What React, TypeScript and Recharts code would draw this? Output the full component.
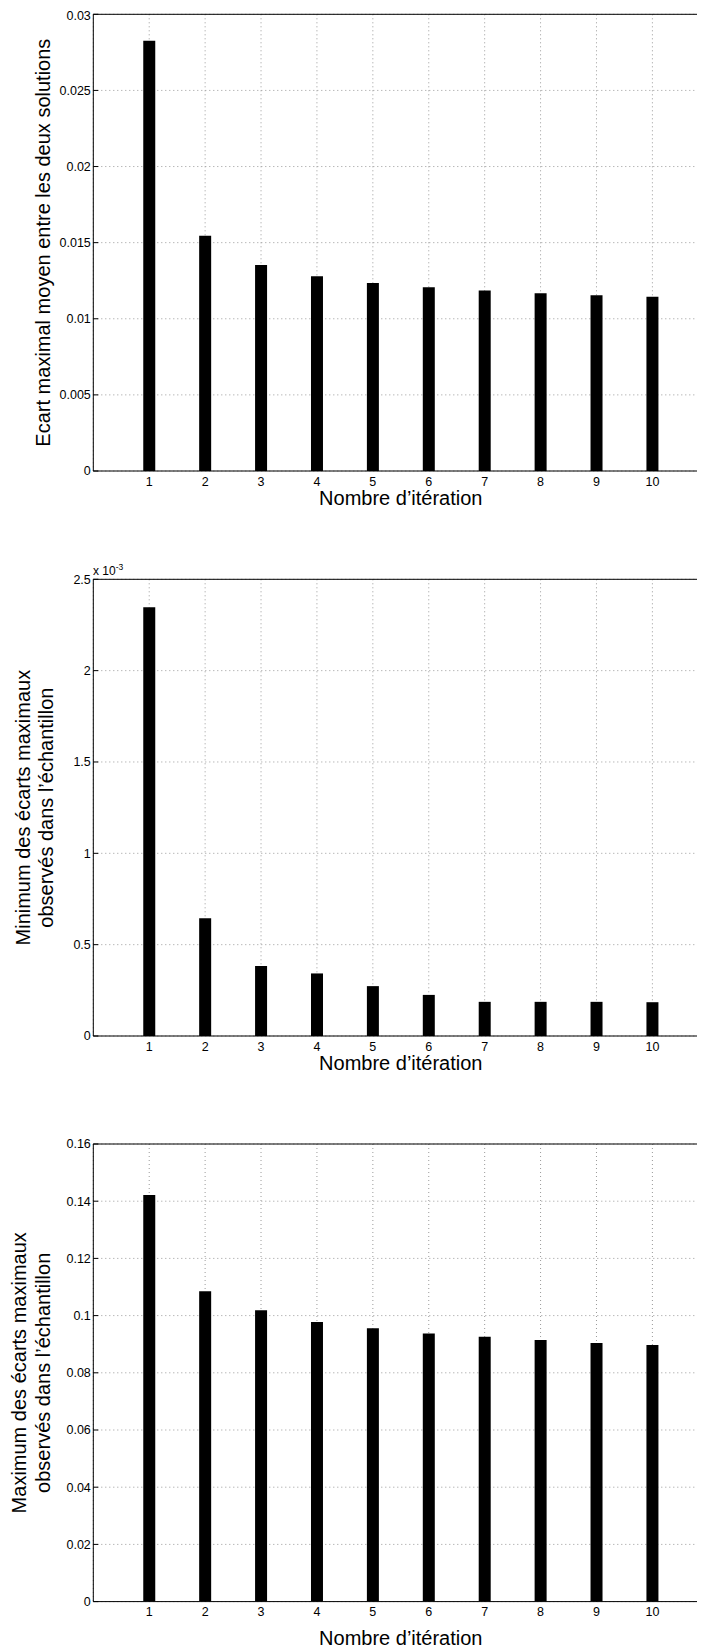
import React from 'react';
import { BarChart, Bar, XAxis, YAxis, CartesianGrid } from 'recharts';

const iterations = [1, 2, 3, 4, 5, 6, 7, 8, 9, 10];
const ecartMoyen = [0.02826, 0.01545, 0.01353, 0.01279, 0.01235, 0.01207, 0.01185, 0.01168, 0.01155, 0.01144];
const minEcarts = [0.002347, 0.000645, 0.000383, 0.0003425, 0.000273, 0.000225, 0.000187, 0.000187, 0.000187, 0.000185];
const maxEcarts = [0.1422, 0.1085, 0.1019, 0.0978, 0.0956, 0.0937, 0.0926, 0.0915, 0.0904, 0.0897];

const yTicks1 = [0, 0.005, 0.01, 0.015, 0.02, 0.025, 0.03];
const yLabels1 = ['0', '0.005', '0.01', '0.015', '0.02', '0.025', '0.03'];
const yTicks2 = [0, 0.0005, 0.001, 0.0015, 0.002, 0.0025];
const yLabels2 = ['0', '0.5', '1', '1.5', '2', '2.5'];
const yTicks3 = [0, 0.02, 0.04, 0.06, 0.08, 0.1, 0.12, 0.14, 0.16];
const yLabels3 = ['0', '0.02', '0.04', '0.06', '0.08', '0.1', '0.12', '0.14', '0.16'];

const xTitle = 'Nombre d\u2019itération';
const yTitle1 = ['Ecart maximal moyen entre les deux solutions'];
const yTitle2 = ['Minimum des écarts maximaux', 'observés dans l\u2019échantillon'];
const yTitle3 = ['Maximum des écarts maximaux', 'observés dans l\u2019échantillon'];

const W = 705;
const PLOT_LEFT = 85.3;
const PLOT_W = 615;
const X_AXIS_H = 30;
const FONT = '"Liberation Sans", Arial, Helvetica, sans-serif';

type PanelProps = {
  top: number;
  height: number;
  plotTop: number;
  plotBottom: number;
  values: number[];
  yTicks: number[];
  yLabels: string[];
  titleLines: string[];
  titleX: number[];
  xTitleBaseline: number;
  exponent?: { x: number; y: number };
};

function Panel(p: PanelProps) {
  const data = iterations.map((x, i) => ({ x, v: p.values[i] }));
  const ymax = p.yTicks[p.yTicks.length - 1];
  const margin = {
    top: p.plotTop - 1,
    right: W - PLOT_LEFT - PLOT_W - 1,
    left: 0,
    bottom: p.height - X_AXIS_H - p.plotBottom,
  };
  const fmt = (v: number) => {
    const idx = p.yTicks.findIndex((t) => Math.abs(t - v) < ymax * 1e-6);
    return idx >= 0 ? p.yLabels[idx] : String(v);
  };
  const cy = (p.plotTop + p.plotBottom) / 2;
  const cx = PLOT_LEFT + PLOT_W / 2;
  const yTitleRender = () => (
    <g>
      {p.titleLines.map((t, i) => (
        <text
          key={i}
          x={p.titleX[i]}
          y={cy}
          transform={`rotate(-90 ${p.titleX[i]} ${cy})`}
          textAnchor="middle"
          fontSize={20}
          fill="#000"
        >
          {t}
        </text>
      ))}
      {p.exponent && (
        <text x={p.exponent.x} y={p.exponent.y} fontSize={12} fill="#000">
          x 10
          <tspan dy={-5} fontSize={8.5}>
            -3
          </tspan>
        </text>
      )}
    </g>
  );
  const xTitleRender = () => (
    <text x={cx} y={p.xTitleBaseline} textAnchor="middle" fontSize={20} fill="#000">
      {xTitle}
    </text>
  );
  return (
    <div style={{ position: 'absolute', left: 0, top: p.top, width: W, height: p.height }}>
      <BarChart width={W} height={p.height} data={data} margin={margin} barGap={0}>
        <CartesianGrid stroke="#9a9a9a" strokeDasharray="1 3" strokeWidth={1} />
        <XAxis
          dataKey="x"
          type="number"
          domain={[0, 11]}
          ticks={iterations}
          allowDataOverflow
          height={X_AXIS_H}
          stroke="#000"
          tickSize={-5}
          tickMargin={11}
          tick={{ fontSize: 12.5, fill: '#000' }}
          label={xTitleRender}
        />
        <XAxis
          xAxisId="top"
          dataKey="x"
          type="number"
          orientation="top"
          domain={[0, 11]}
          ticks={iterations}
          allowDataOverflow
          height={1}
          stroke="#000"
          tickSize={-5}
          tick={false}
        />
        <YAxis
          type="number"
          domain={[0, ymax]}
          ticks={p.yTicks}
          allowDataOverflow
          width={PLOT_LEFT}
          stroke="#000"
          tickSize={-5}
          tickMargin={7.5}
          tick={{ fontSize: 12.5, fill: '#000' }}
          tickFormatter={fmt}
          label={yTitleRender}
        />
        <YAxis
          yAxisId="right"
          type="number"
          orientation="right"
          domain={[0, ymax]}
          ticks={p.yTicks}
          allowDataOverflow
          width={1}
          stroke="#000"
          tickSize={-5}
          tick={false}
        />
        <Bar dataKey="v" fill="#000" barSize={12} isAnimationActive={false} />
      </BarChart>
    </div>
  );
}

export default function App() {
  return (
    <div
      style={{
        position: 'relative',
        width: 697,
        height: 1642,
        overflow: 'hidden',
        fontFamily: FONT,
        background: '#fff',
      }}
    >
      <div style={{ position: 'absolute', left: 0, top: 0, width: W, height: 1642 }}>
        <Panel
          top={0}
          height={530}
          plotTop={6.3}
          plotBottom={463}
          values={ecartMoyen}
          yTicks={yTicks1}
          yLabels={yLabels1}
          titleLines={yTitle1}
          titleX={[42]}
          xTitleBaseline={497}
        />
        <Panel
          top={532}
          height={560}
          plotTop={39.3}
          plotBottom={496}
          values={minEcarts}
          yTicks={yTicks2}
          yLabels={yLabels2}
          titleLines={yTitle2}
          titleX={[22, 45]}
          xTitleBaseline={530}
          exponent={{ x: 85, y: 35 }}
        />
        <Panel
          top={1092}
          height={550}
          plotTop={44}
          plotBottom={501.6}
          values={maxEcarts}
          yTicks={yTicks3}
          yLabels={yLabels3}
          titleLines={yTitle3}
          titleX={[18.5, 42]}
          xTitleBaseline={545}
        />
      </div>
    </div>
  );
}
